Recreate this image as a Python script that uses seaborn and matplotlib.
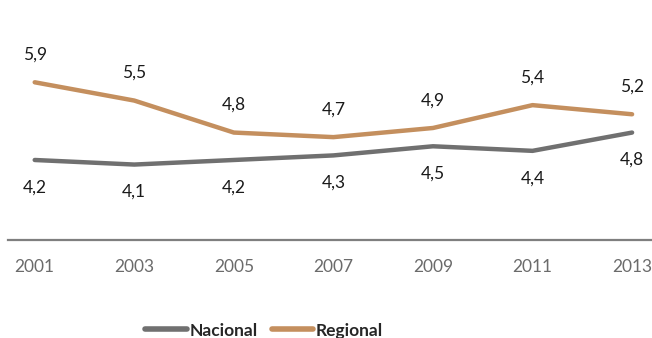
import matplotlib

matplotlib.use("Agg")

import matplotlib.pyplot as plt
import pandas as pd
import seaborn as sns

years = ["2001", "2003", "2005", "2007", "2009", "2011", "2013"]
nacional = [4.2, 4.1, 4.2, 4.3, 4.5, 4.4, 4.8]
regional = [5.9, 5.5, 4.8, 4.7, 4.9, 5.4, 5.2]
series_names = ["Nacional", "Regional"]
colors = {"Nacional": "#707070", "Regional": "#C48F5E"}

sns.set_style("white")
plt.rcParams["font.family"] = ["Lato", "DejaVu Sans"]

df = pd.DataFrame({
    "year": years * 2,
    "x": list(range(len(years))) * 2,
    "value": nacional + regional,
    "serie": [series_names[0]] * len(years) + [series_names[1]] * len(years),
})

fig = plt.figure(figsize=(6.52, 3.38), dpi=100)
ax = fig.add_axes([0.012, 0.29, 0.988, 0.71])

sns.lineplot(data=df, x="x", y="value", hue="serie", palette=colors,
             linewidth=3.2, ax=ax, legend=False)

for i, v in enumerate(regional):
    ax.annotate(f"{v:.1f}".replace(".", ","), (i, v), xytext=(0, 14),
                textcoords="offset points", ha="center", va="bottom",
                fontsize=12.5, color="#1a1a1a")
for i, v in enumerate(nacional):
    ax.annotate(f"{v:.1f}".replace(".", ","), (i, v), xytext=(0, -14),
                textcoords="offset points", ha="center", va="top",
                fontsize=12.5, color="#1a1a1a")

ax.set_xlim(-0.27, 6.2)
ax.set_ylim(2.45, 7.7)
ax.set_xticks(range(len(years)))
ax.set_xticklabels(years, fontsize=12.5, color="#6b6b6b")
ax.set_yticks([])
ax.tick_params(axis="x", length=0, pad=14)
ax.set_xlabel("")
ax.set_ylabel("")
for side in ["top", "right", "left"]:
    ax.spines[side].set_visible(False)
ax.spines["bottom"].set_color("#7f7f7f")
ax.spines["bottom"].set_linewidth(1.6)

handles = [plt.Line2D([], [], color=colors[n], linewidth=4) for n in series_names]
fig.legend(handles, series_names, loc="center", bbox_to_anchor=(0.405, 0.022),
           ncol=2, frameon=False, handlelength=2.4, handletextpad=0.15,
           columnspacing=0.8, prop={"weight": "bold", "size": 12.5})

fig.savefig("out.png", dpi=100)
